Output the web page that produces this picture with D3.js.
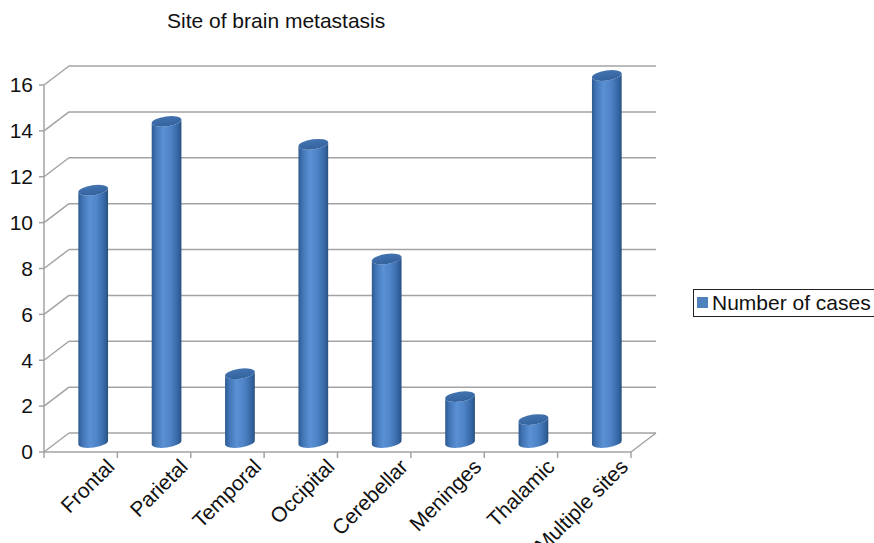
<!DOCTYPE html>
<html><head><meta charset="utf-8">
<script src="https://cdn.jsdelivr.net/npm/d3@7"></script>
<style>body{margin:0;background:#fff}svg{display:block;font-family:"Liberation Sans",Arial,Helvetica,sans-serif}</style>
</head><body>
<svg id="chart" width="874" height="543"></svg>
<script>
const categories = ["Frontal","Parietal","Temporal","Occipital","Cerebellar","Meninges","Thalamic","Multiple sites"];
const values = [11,14,3,13,8,2,1,16];
const yTicks = [0,2,4,6,8,10,12,14,16];
const seriesName = "Number of cases";
const title = "Site of brain metastasis";

const svg = d3.select("#chart");
const depthX = 25, depthY = -19;
const x = d3.scaleBand().domain(categories).range([44, 631]).padding(0);
const y = d3.scaleLinear().domain([0, 16]).range([452, 85]);
const grid = "#a3a3a3";
const fs = 21;

// title
svg.append("text").attr("x", 167).attr("y", 28).attr("font-size", fs).attr("fill", "#111").text(title);

// back wall gridlines + left wall diagonals
const g = svg.append("g");
yTicks.forEach(t => {
  const yf = y(t);
  g.append("line").attr("x1", 44).attr("y1", yf).attr("x2", 44 + depthX).attr("y2", yf + depthY)
    .attr("stroke", grid).attr("stroke-width", 1.5);
  g.append("line").attr("x1", 44 + depthX).attr("y1", yf + depthY).attr("x2", 631 + depthX).attr("y2", yf + depthY)
    .attr("stroke", grid).attr("stroke-width", 1.5);
});
g.append("line").attr("x1", 631).attr("y1", y(0)).attr("x2", 631 + depthX).attr("y2", y(0) + depthY)
  .attr("stroke", grid).attr("stroke-width", 1.5);

// gradients
const defs = svg.append("defs");
const grad = defs.append("linearGradient").attr("id", "body").attr("x1", "0%").attr("x2", "100%").attr("y1", "0%").attr("y2", "0%");
[["0%", "#2d5a8f"], ["12%", "#3f72b2"], ["38%", "#5a91d4"], ["62%", "#4f85c8"], ["88%", "#3667a5"], ["100%", "#28507f"]]
  .forEach(([o, c]) => grad.append("stop").attr("offset", o).attr("stop-color", c));
const gradTop = defs.append("linearGradient").attr("id", "top").attr("x1", "0%").attr("x2", "0%").attr("y1", "0%").attr("y2", "100%");
[["0%", "#4474b0"], ["100%", "#33629d"]].forEach(([o, c]) => gradTop.append("stop").attr("offset", o).attr("stop-color", c));

// cylinders
const rx = 15, ry = 5, tilt = -8;
const tr = tilt * Math.PI / 180;
const bars = svg.append("g");
categories.forEach((c, i) => {
  const cx = x(c) + x.bandwidth() / 2 + depthX / 2;
  const yb = y(0) + depthY / 2;
  const yt = y(values[i]) + depthY / 2;
  const dx = rx * Math.cos(tr), dy = rx * Math.sin(tr);
  const p = `M${cx - dx},${yt - dy} L${cx - dx},${yb - dy} A${rx},${ry} ${tilt} 0 0 ${cx + dx},${yb + dy} L${cx + dx},${yt + dy} A${rx},${ry} ${tilt} 0 1 ${cx - dx},${yt - dy} Z`;
  bars.append("path").attr("d", p).attr("fill", "url(#body)");
  bars.append("ellipse").attr("cx", cx).attr("cy", yt).attr("rx", rx).attr("ry", ry)
    .attr("transform", `rotate(${tilt},${cx},${yt})`).attr("fill", "url(#top)");
});

// front y axis
const axis = svg.append("g");
axis.append("line").attr("x1", 44).attr("y1", y(16)).attr("x2", 44).attr("y2", y(0)).attr("stroke", grid).attr("stroke-width", 1.5);
yTicks.forEach(t => {
  axis.append("line").attr("x1", 39).attr("y1", y(t)).attr("x2", 44).attr("y2", y(t)).attr("stroke", grid).attr("stroke-width", 1.5);
  axis.append("text").attr("x", 33).attr("y", y(t)).attr("dy", "0.35em").attr("text-anchor", "end")
    .attr("font-size", fs).attr("fill", "#111").text(t);
});
// front x axis
axis.append("line").attr("x1", 44).attr("y1", y(0)).attr("x2", 631).attr("y2", y(0)).attr("stroke", grid).attr("stroke-width", 1.5);
const bounds = categories.map(c => x(c)).concat([631]);
bounds.forEach(b => axis.append("line").attr("x1", b).attr("y1", y(0)).attr("x2", b).attr("y2", y(0) + 6).attr("stroke", grid).attr("stroke-width", 1.5));
categories.forEach(c => {
  const ax = x(c) + x.bandwidth() / 2 + 35, ay = 468;
  axis.append("text").attr("transform", `translate(${ax},${ay}) rotate(-45)`).attr("text-anchor", "end")
    .attr("font-size", fs).attr("fill", "#111").text(c);
});

// legend
const lg = svg.append("g");
lg.append("rect").attr("x", 693.5).attr("y", 289.5).attr("width", 190).attr("height", 27).attr("fill", "#fff").attr("stroke", "#222").attr("stroke-width", 1);
lg.append("rect").attr("x", 697).attr("y", 297).attr("width", 11).attr("height", 11).attr("fill", "#4f81bd");
lg.append("text").attr("x", 712).attr("y", 310).attr("font-size", fs).attr("fill", "#111").text(seriesName);
</script>
</body></html>
